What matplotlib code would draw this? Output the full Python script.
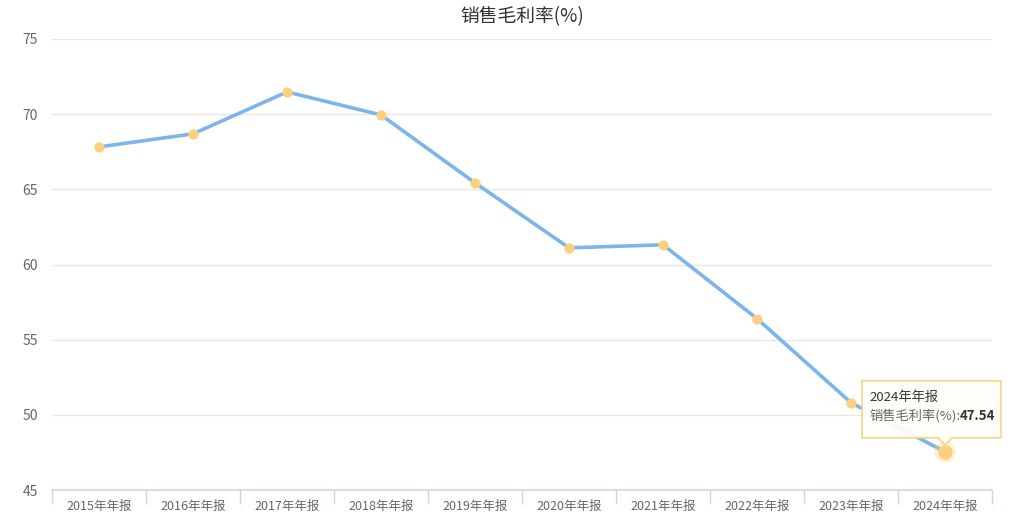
import numpy as np
import matplotlib
matplotlib.use('Agg')
import matplotlib.pyplot as plt
from matplotlib.patches import Polygon, Circle
from matplotlib.transforms import Affine2D, IdentityTransform

plt.rcParams['font.family'] = ['Noto Sans CJK SC', 'DejaVu Sans']

# -------- data --------
years = ['2015年年报', '2016年年报', '2017年年报', '2018年年报', '2019年年报',
         '2020年年报', '2021年年报', '2022年年报', '2023年年报', '2024年年报']
margin = [67.82, 68.69, 71.48, 69.95, 65.43, 61.11, 61.31, 56.40, 50.81, 47.54]
title = '销售毛利率(%)'
hover_idx = 9

line_color = '#7cb5ec'
marker_color = '#fdd07f'
axis_color = '#ccd6eb'
grid_color = '#e6e6e6'

W, H = 1017, 516
fig = plt.figure(figsize=(W / 100, H / 100), dpi=100)
ax = fig.add_axes([52 / W, 26 / H, 940 / W, 451 / H])

x = np.arange(len(years))
ax.plot(x, margin, color=line_color, lw=2.6, zorder=3, solid_capstyle='round')
ax.scatter(x, margin, s=55, color=marker_color, zorder=4, linewidths=0)

ax.set_xlim(-0.5, len(years) - 0.5)
ax.set_ylim(45, 75)
ax.set_yticks(np.arange(45, 76, 5))
ax.yaxis.grid(True, color=grid_color, lw=1)
ax.set_axisbelow(True)

for s in ['top', 'right', 'left']:
    ax.spines[s].set_visible(False)
ax.spines['bottom'].set_color(axis_color)
ax.spines['bottom'].set_linewidth(1.2)

ax.tick_params(axis='y', length=0, labelsize=10, labelcolor='#666666', pad=10)
ax.set_xticks(x)
ax.set_xticklabels(years, fontsize=9, color='#666666')
ax.tick_params(axis='x', length=0, pad=7)
# band boundary ticks
ax.set_xticks(np.arange(-0.5, len(years)), minor=True)
ax.tick_params(axis='x', which='minor', length=10, color=axis_color, width=1)

ax.set_title(title, fontsize=13.5, color='#333333', pad=12)

# -------- hover tooltip on the last point --------
fig.canvas.draw()
px, py = ax.transData.transform((x[hover_idx], margin[hover_idx]))

halo = Circle((px, py), 11, transform=IdentityTransform(), color=marker_color,
              alpha=0.3, lw=0, zorder=5)
fig.add_artist(halo)
ax.scatter([x[hover_idx]], [margin[hover_idx]], s=110, color=marker_color,
           zorder=6, linewidths=0)

l, r, b, t = -83, 56, 14, 71
box = [(l, b), (-7, b), (0, 7), (7, b), (r, b), (r, t), (l, t)]
tip = Polygon(box, closed=True, transform=Affine2D().translate(px, py),
              facecolor='#fffdf7', edgecolor='#f7d37e', lw=1.2, zorder=7,
              alpha=0.95)
fig.add_artist(tip)

fig.text((px + l + 7) / W, (py + t - 17) / H, years[hover_idx], fontsize=9.5,
         color='#333333', va='center', ha='left', zorder=8)
lab = fig.text((px + l + 7) / W, (py + t - 35) / H, title + ':', fontsize=9.5,
               color='#666666', va='center', ha='left', zorder=8)
fig.canvas.draw()
bb = lab.get_window_extent()
fig.text(bb.x1 / W, (py + t - 35) / H, f'{margin[hover_idx]:.2f}', fontsize=9.5,
         color='#333333', fontweight='bold', va='center', ha='left', zorder=8)

fig.savefig('out.png', dpi=100)
